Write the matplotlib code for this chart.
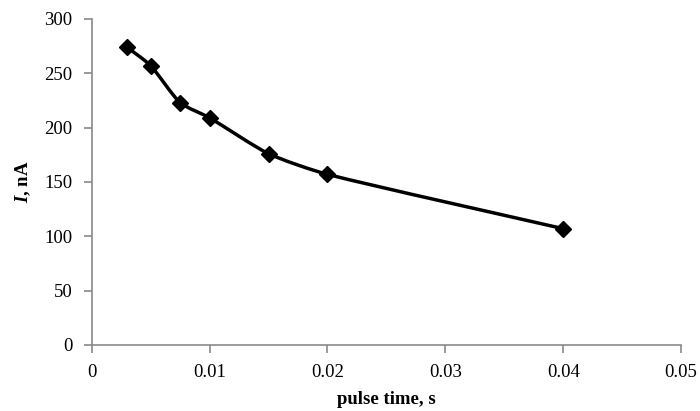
import matplotlib
matplotlib.use("Agg")
import matplotlib.pyplot as plt
from matplotlib.path import Path
from matplotlib.patches import PathPatch
import numpy as np

pulse_time = [0.003, 0.005, 0.0075, 0.01, 0.015, 0.02, 0.04]
current_nA = [274, 257, 223, 209, 176, 157, 107]
x_ticks = [0, 0.01, 0.02, 0.03, 0.04, 0.05]
x_tick_labels = ["0", "0.01", "0.02", "0.03", "0.04", "0.05"]
y_ticks = [0, 50, 100, 150, 200, 250, 300]

plt.rcParams['font.family'] = ['Liberation Serif', 'DejaVu Serif']
plt.rcParams['mathtext.fontset'] = 'custom'
plt.rcParams['mathtext.it'] = 'Liberation Serif:italic:bold'
plt.rcParams['mathtext.bf'] = 'Liberation Serif:bold'
plt.rcParams['mathtext.rm'] = 'Liberation Serif'

fig = plt.figure(figsize=(7, 4.11), dpi=100)
ax = fig.add_axes([0.131, 0.1606, 0.842, 0.7934])
ax.set_xlim(0, 0.05)
ax.set_ylim(0, 300)

# Smoothed curve through data points, computed in display space
P = ax.transData.transform(np.column_stack([pulse_time, current_nA]))
n = len(P)
tang = []
for i in range(n):
    a = P[max(i - 1, 0)]
    b = P[min(i + 1, n - 1)]
    d = b - a
    tang.append(d / np.linalg.norm(d))
dverts = [P[0]]
codes = [Path.MOVETO]
k = 0.22
for i in range(n - 1):
    L = np.linalg.norm(P[i + 1] - P[i])
    c1 = P[i] + tang[i] * L * k
    c2 = P[i + 1] - tang[i + 1] * L * k
    dverts += [c1, c2, P[i + 1]]
    codes += [Path.CURVE4] * 3
verts = ax.transData.inverted().transform(np.array(dverts))
patch = PathPatch(Path(verts, codes), facecolor='none', edgecolor='black', lw=2.5,
                  capstyle='round', joinstyle='round', zorder=2)
ax.add_patch(patch)
ax.plot(pulse_time, current_nA, linestyle='none', marker='D', markersize=8,
        color='black', zorder=3)

ax.set_xticks(x_ticks)
ax.set_xticklabels(x_tick_labels)
ax.set_yticks(y_ticks)

for s in ['top', 'right']:
    ax.spines[s].set_visible(False)
for s in ['left', 'bottom']:
    ax.spines[s].set_color('#898989')
    ax.spines[s].set_linewidth(1.2)
ax.tick_params(axis='both', direction='out', length=6, width=1.2, color='#898989',
               labelsize=13.5, labelcolor='black', pad=8)

ax.set_xlabel('pulse time, s', fontsize=13.5, fontweight='bold', labelpad=7)
ax.set_ylabel(r'$\mathit{I}$, nA', fontsize=13.5, fontweight='bold', labelpad=8)

fig.savefig('out.png', dpi=100)
